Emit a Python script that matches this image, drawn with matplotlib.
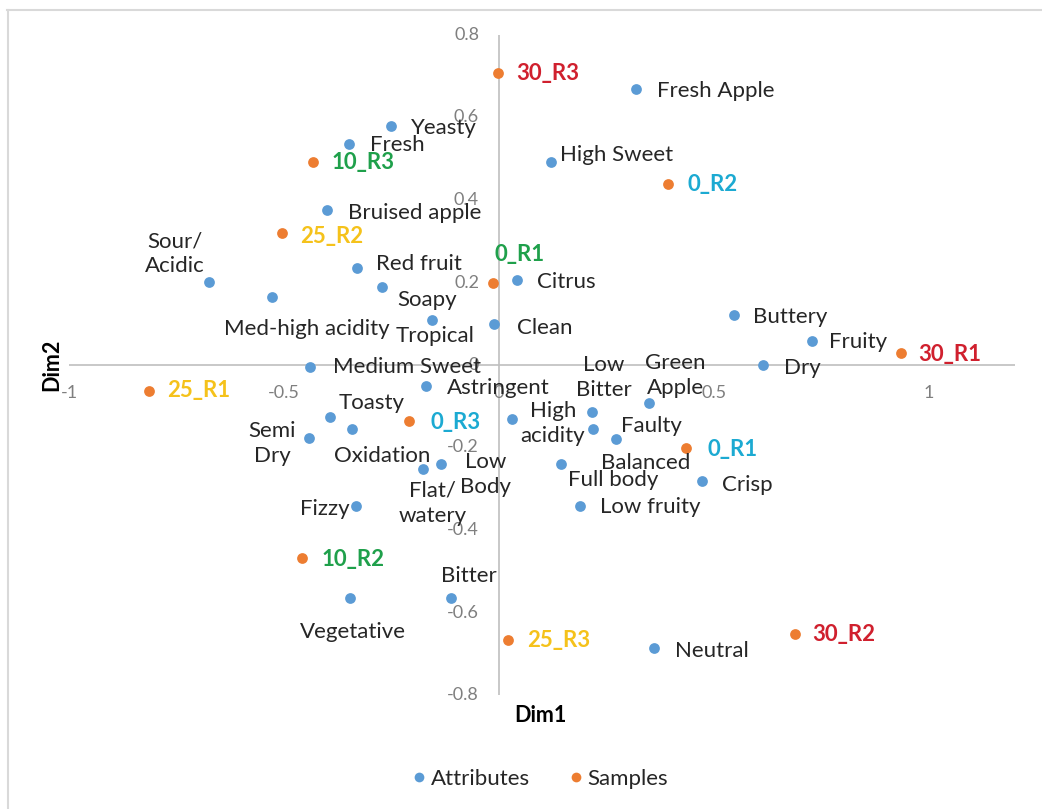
import numpy as np
import matplotlib.pyplot as plt
from matplotlib.lines import Line2D

plt.rcParams['font.family'] = ['Lato', 'DejaVu Sans']

# attributes (blue points)
attr_names = ['Fresh Apple', 'Yeasty', 'Fresh', 'High Sweet', 'Bruised apple', 'Red fruit',
              'Sour/\nAcidic', 'Med-high acidity', 'Soapy', 'Citrus', 'Tropical', 'Clean',
              'Buttery', 'Fruity', 'Dry', 'Medium Sweet', 'Astringent', 'Green\nApple',
              'Low\nBitter', 'High\nacidity', 'Balanced', 'Faulty', 'Full body', 'Crisp',
              'Low fruity', 'Toasty', 'Oxidation', 'Semi\nDry', 'Low\nBody', 'Flat/\nwatery',
              'Fizzy', 'Vegetative', 'Bitter', 'Neutral']
attr_x = [0.319, -0.251, -0.349, 0.121, -0.400, -0.330, -0.674, -0.528, -0.272, 0.042, -0.156,
          -0.012, 0.547, 0.728, 0.614, -0.440, -0.170, 0.349, 0.216, 0.030, 0.219, 0.272,
          0.144, 0.472, 0.188, -0.393, -0.342, -0.442, -0.135, -0.177, -0.333, -0.347,
          -0.112, 0.360]
attr_y = [0.668, 0.580, 0.535, 0.493, 0.375, 0.236, 0.201, 0.166, 0.188, 0.207, 0.108, 0.100,
          0.122, 0.059, 0.001, -0.004, -0.052, -0.091, -0.115, -0.130, -0.156, -0.180,
          -0.241, -0.282, -0.343, -0.125, -0.156, -0.178, -0.241, -0.253, -0.343, -0.566,
          -0.566, -0.685]

# samples (orange points)
samp_names = ['30_R3', '10_R3', '0_R2', '25_R2', '0_R1', '30_R1', '25_R1', '0_R3', '0_R1',
              '10_R2', '25_R3', '30_R2']
samp_x = [-0.002, -0.433, 0.393, -0.505, -0.014, 0.935, -0.814, -0.209, 0.435, -0.458, 0.021, 0.688]
samp_y = [0.709, 0.491, 0.440, 0.319, 0.198, 0.028, -0.062, -0.135, -0.200, -0.469, -0.666, -0.651]

# label placement (pixel offsets from the point, horizontal alignment)
attr_off = [(21, -2, 'left'), (20, -2, 'left'), (21, -1, 'left'), (9, 7, 'left'),
            (21, -3, 'left'), (19, 4, 'left'), (-34, 28, 'center'), (-48, -32, 'left'),
            (15, -13, 'left'), (20, -2, 'left'), (-36, -16, 'left'), (23, -4, 'left'),
            (19, -2, 'left'), (17, -1, 'left'), (21, -3, 'left'), (23, 0, 'left'),
            (21, -2, 'left'), (26, 27, 'center'), (12, 35, 'center'), (41, -5, 'center'),
            (8, -34, 'left'), (5, 13, 'left'), (7, -16, 'left'), (20, -4, 'left'),
            (20, -1, 'left'), (9, 14, 'left'), (-18, -27, 'left'), (-37, -5, 'center'),
            (45, -10, 'center'), (10, -34, 'center'), (-56, -3, 'left'), (-50, -34, 'left'),
            (-10, 22, 'left'), (21, -3, 'left')]
samp_off = [(18, -1), (19, 0), (20, -1), (18, -3), (2, 29), (17, -1), (18, 0), (21, -2),
            (21, -2), (19, -1), (19, -1), (17, -1)]
samp_col = ['#D0202E', '#1FA04B', '#1CAAD2', '#F5C21B', '#1FA04B', '#D0202E', '#F5C21B',
            '#1CAAD2', '#1CAAD2', '#1FA04B', '#F5C21B', '#D0202E']

fig = plt.figure(figsize=(10.42, 8.09), dpi=100)
ax = fig.add_axes([69 / 1042, 1 - 695 / 809, 946 / 1042, 660 / 809])
ax.set_xlim(-1, 1.2)
ax.set_ylim(-0.8, 0.8)
ax.axis('off')

grey = '#BFBFBF'
ax.plot([-1, 1.2], [0, 0], color=grey, lw=1.2, zorder=1)
ax.plot([0, 0], [-0.8, 0.8], color=grey, lw=1.2, zorder=1)

tick_col = '#7F7F7F'
for t in [-1, -0.5, 0, 0.5, 1]:
    ax.annotate('%g' % t, (t, 0), xytext=(0, -28), textcoords='offset pixels',
                ha='center', va='center', fontsize=13, color=tick_col, zorder=2)
for t in [-0.8, -0.6, -0.4, -0.2, 0, 0.2, 0.4, 0.6, 0.8]:
    ax.annotate('%g' % t, (0, t), xytext=(-20, 0), textcoords='offset pixels',
                ha='right', va='center', fontsize=13, color=tick_col, zorder=2)

ax.scatter(attr_x, attr_y, s=60, color='#5B9BD5', zorder=3, linewidths=0)
ax.scatter(samp_x, samp_y, s=60, color='#ED7D31', zorder=3, linewidths=0)

for name, x, y, (dx, dy, ha) in zip(attr_names, attr_x, attr_y, attr_off):
    ax.annotate(name, (x, y), xytext=(dx, dy), textcoords='offset pixels',
                ha=ha, va='center', multialignment='center', fontsize=16,
                color='#262626', linespacing=1.3, zorder=4)

for name, x, y, (dx, dy), c in zip(samp_names, samp_x, samp_y, samp_off, samp_col):
    ax.annotate(name, (x, y), xytext=(dx, dy), textcoords='offset pixels',
                ha='left', va='center', fontsize=16, fontweight='bold', color=c, zorder=4)

fig.text(540 / 1042, 1 - 715 / 809, 'Dim1', ha='center', va='center',
         fontsize=15.5, fontweight='bold', color='#000000')
fig.text(52 / 1042, 1 - 365 / 809, 'Dim2', ha='center', va='center', rotation=90,
         fontsize=15.5, fontweight='bold', color='#000000')

handles = [Line2D([], [], ls='none', marker='o', ms=7, color='#5B9BD5', mec='none'),
           Line2D([], [], ls='none', marker='o', ms=7, color='#ED7D31', mec='none')]
fig.legend(handles, ['Attributes', 'Samples'], loc='center', ncol=2,
           bbox_to_anchor=(537 / 1042, 1 - 779 / 809), frameon=False, fontsize=16,
           handletextpad=-0.1, handlelength=1.2, columnspacing=1.5, labelcolor='#262626')

# chart area border (top and left only)
fig.add_artist(Line2D([7 / 1042, 1], [1 - 9.5 / 809, 1 - 9.5 / 809], color='#D9D9D9', lw=1.5))
fig.add_artist(Line2D([7.5 / 1042, 7.5 / 1042], [0, 1 - 9.5 / 809], color='#D9D9D9', lw=1.5))

fig.savefig('out.png', dpi=100, facecolor='white')
